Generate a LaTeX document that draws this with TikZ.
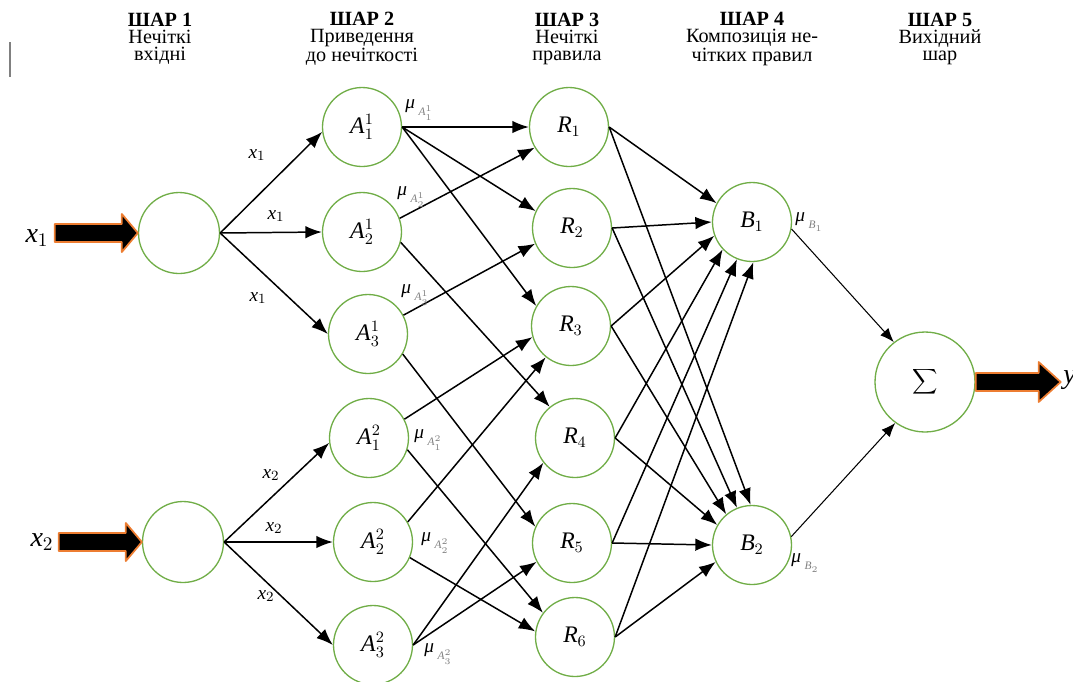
\documentclass[tikz,border=0pt]{standalone}
\usepackage{fontspec}
\setmainfont{Liberation Serif}
\usetikzlibrary{arrows.meta}

\begin{document}
\begin{tikzpicture}[
  x=0.02cm, y=-0.02cm, % one unit = one pixel, y grows downward
  line join=round,
  neuron/.style={circle, draw=ringgreen, line width=0.75pt, minimum size=1.58cm,
    inner sep=0pt, font=\fontsize{13.5}{15}\selectfont},
  link/.style={-{Latex[length=0.33cm, width=0.25cm]}, line width=0.85pt},
  thinlink/.style={-{Latex[length=0.28cm, width=0.22cm]}, line width=0.6pt},
  bigarrow/.style={fill=black, draw=arrowrim, line width=1pt},
  head/.style={align=center, inner sep=0pt, font=\fontsize{11.5}{9.6}\selectfont},
  edgelab/.style={inner sep=0pt, font=\fontsize{11}{12}\selectfont},
  mulab/.style={anchor=west, inner sep=0pt, font=\fontsize{11}{12}\selectfont}
]
  % ---- colours ----
  \definecolor{ringgreen}{RGB}{112,173,71}
  \definecolor{arrowrim}{RGB}{237,125,49}

  % ---- helpers ----
  \def\memb#1{\textit{μ}\kern2pt\raisebox{-0.8ex}{\color{gray}\fontsize{6.5}{7}\selectfont #1}}

  % ---- canvas ----
  \useasboundingbox (0,0) rectangle (1073,681);
  \clip (0,0) rectangle (1073,681);
  \draw[gray, line width=0.6pt] (10,42) -- (10,77);

  % ---- layer titles ----
  \node[head] (h1) at (160,39) {\textbf{ШАР 1}\\Нечіткі\\вхідні};
  \node[head] (h2) at (362,39) {\textbf{ШАР 2}\\Приведення\\до нечіткості};
  \node[head] (h3) at (567,39) {\textbf{ШАР 3}\\Нечіткі\\правила};
  \node[head] (h4) at (752,39) {\textbf{ШАР 4}\\Композиція не-\\чітких правил};
  \node[head] (h5) at (940,39) {\textbf{ШАР 5}\\Вихідний\\шар};

  % ---- layer 1: inputs ----
  \node[neuron, minimum size=1.62cm] (I1) at (179,233) {};
  \node[neuron, minimum size=1.62cm] (I2) at (183,542) {};

  % ---- layer 2: membership functions ----
  \node[neuron] (A11) at (362,127) {\textit{A}$^{1}_{1}$};
  \node[neuron] (A12) at (362,232) {\textit{A}$^{1}_{2}$};
  \node[neuron] (A13) at (368,334) {\textit{A}$^{1}_{3}$};
  \node[neuron] (A21) at (369,438) {\textit{A}$^{2}_{1}$};
  \node[neuron] (A22) at (373,542) {\textit{A}$^{2}_{2}$};
  \node[neuron] (A23) at (373,645) {\textit{A}$^{2}_{3}$};

  % ---- layer 3: rules ----
  \node[neuron] (R1) at (569,127) {\textit{R}$_{1}$};
  \node[neuron] (R2) at (572,228) {\textit{R}$_{2}$};
  \node[neuron] (R3) at (571,326) {\textit{R}$_{3}$};
  \node[neuron] (R4) at (575,438) {\textit{R}$_{4}$};
  \node[neuron] (R5) at (572,543) {\textit{R}$_{5}$};
  \node[neuron] (R6) at (575,637) {\textit{R}$_{6}$};

  % ---- layer 4 and 5 ----
  \node[neuron] (B1) at (752,222) {\textit{B}$_{1}$};
  \node[neuron] (B2) at (752,545) {\textit{B}$_{2}$};
  \node[neuron, minimum size=2cm, font=\fontsize{15}{18}\selectfont] (S) at (925,382) {$\displaystyle\sum$};

  % ---- big input / output arrows ----
  \draw[bigarrow] (I1.west) -- ++(-16,-19) -- ++(0,10) -- ++(-67,0) -- ++(0,18)
    -- ++(67,0) -- ++(0,10) -- cycle;
  \draw[bigarrow] (I2.west) -- ++(-16,-19) -- ++(0,10) -- ++(-67,0) -- ++(0,18)
    -- ++(67,0) -- ++(0,10) -- cycle;
  \draw[bigarrow] (S.east) -- ++(0,-9) -- ++(63,0) -- ++(0,-11) -- ++(22,20)
    -- ++(-22,20) -- ++(0,-11) -- ++(-63,0) -- cycle;
  \node[font=\fontsize{16}{18}\selectfont, inner sep=0pt] (x1) at (37,238) {\textit{x}$_{1}$};
  \node[font=\fontsize{16}{18}\selectfont, inner sep=0pt] (x2) at (42,542) {\textit{x}$_{2}$};
  \node[font=\fontsize{16}{18}\selectfont, anchor=west, inner sep=0pt] (y) at (1063,380) {\textit{y}};

  % ---- layer 1 -> layer 2 ----
  \foreach \i in {1,2} {
    \draw[link] (I\i.east) -- (A\i1.187);
    \draw[link] (I\i.east) -- (A\i2.west);
    \draw[link] (I\i.east) -- (A\i3.west);
  }
  \node[edgelab] (l11) at (257,155) {\textit{x}$_{1}$};
  \node[edgelab] (l12) at (276,216) {\textit{x}$_{1}$};
  \node[edgelab] (l13) at (258,298) {\textit{x}$_{1}$};
  \node[edgelab] (l21) at (271,475) {\textit{x}$_{2}$};
  \node[edgelab] (l22) at (274,528) {\textit{x}$_{2}$};
  \node[edgelab] (l23) at (266,596) {\textit{x}$_{2}$};

  % ---- layer 2 -> layer 3 ----
  \foreach \s/\t in {A11.east/R1.west, A11.east/R2.155, A11.east/R3.150,
                     A12.20/R1.211, A12.-15/R4.129,
                     A13.28/R2.203, A13.-30/R5.156,
                     A21.28/R3.196, A21.-17/R6.143,
                     A22.30/R3.231, A22.-23/R6.172,
                     A23.east/R4.218, A23.east/R5.208} {
    \draw[link] (\s) -- (\t);
  }
  \node[mulab] (m11) at (405,110) {\memb{\textit{A}$^{1}_{1}$}};
  \node[mulab] (m12) at (397,197) {\memb{\textit{A}$^{1}_{2}$}};
  \node[mulab] (m13) at (401,295) {\memb{\textit{A}$^{1}_{3}$}};
  \node[mulab] (m21) at (414,440) {\memb{\textit{A}$^{2}_{1}$}};
  \node[mulab] (m22) at (421,543) {\memb{\textit{A}$^{2}_{2}$}};
  \node[mulab] (m23) at (424,654) {\memb{\textit{A}$^{2}_{3}$}};

  % ---- layer 3 -> layer 4 ----
  \foreach \r/\a/\b in {1/152/92, 2/180/112, 3/200/130, 4/223/150, 5/248/180, 6/272/205} {
    \draw[link] (R\r.east) -- (B1.\a);
    \draw[link] (R\r.east) -- (B2.\b);
  }

  % ---- layer 4 -> layer 5 ----
  \draw[thinlink] (B1.-10) -- (S.128);
  \draw[thinlink] (B2.12) -- (S.234);
  \node[mulab] (mb1) at (795,222) {\memb{\textit{B}$_{1}$}};
  \node[mulab] (mb2) at (791,563) {\memb{\textit{B}$_{2}$}};

\end{tikzpicture}
\end{document}
